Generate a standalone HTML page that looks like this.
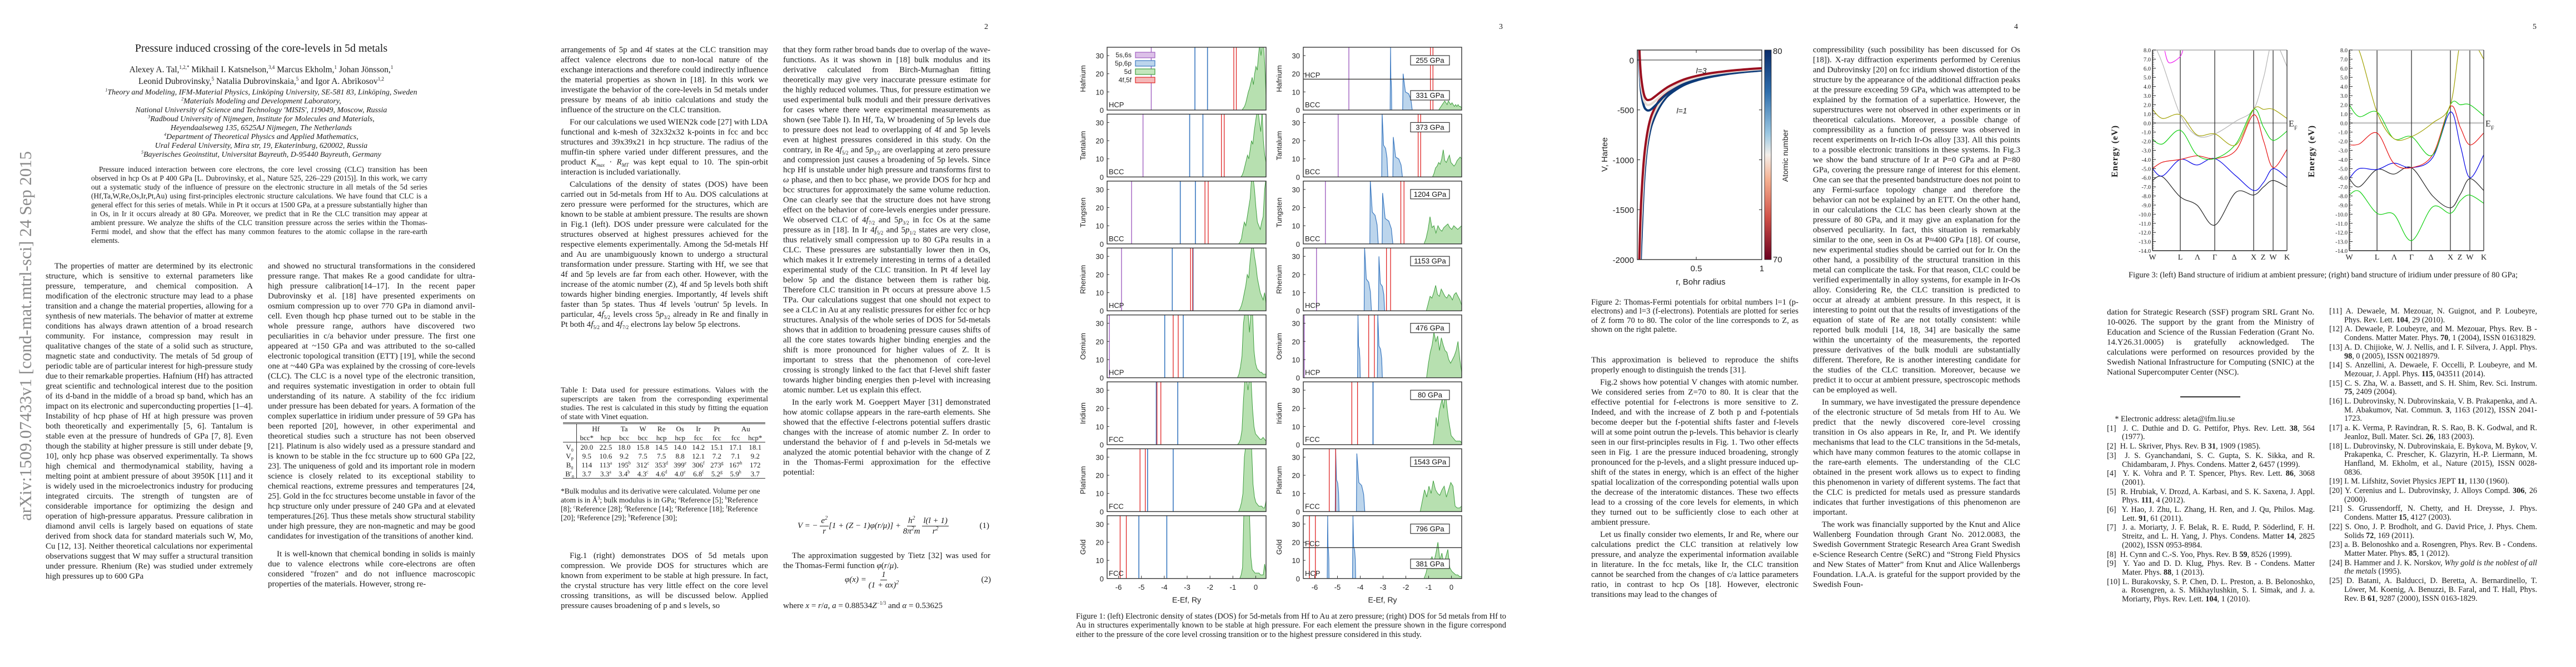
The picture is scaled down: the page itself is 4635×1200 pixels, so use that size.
<!DOCTYPE html>
<html lang="en"><head><meta charset="utf-8"><title>Pressure induced crossing of the core-levels in 5d metals</title>
<style>
html,body{margin:0;padding:0;background:#fff;}
body{width:4635px;height:1200px;position:relative;overflow:hidden;font-family:"Liberation Serif",serif;color:#1a1a1a;}
sup,sub{line-height:0;}
.col{position:absolute;width:373px;font-size:15px;line-height:18px;text-align:justify;hyphens:auto;overflow:hidden;}
.col p{margin:0;text-indent:16px;}
.col p.ni{text-indent:0;}
.col p+p{margin-top:4px;}
.pn{position:absolute;top:41px;font-size:14px;}
.cap{position:absolute;font-size:14.5px;line-height:16.3px;text-align:justify;}
.refs{position:absolute;width:374px;font-size:14.2px;line-height:15.7px;text-align:justify;overflow:hidden;}
.refs div{padding-left:27px;text-indent:-27px;}
.refs div+div{margin-top:1px;}
.c{position:absolute;text-align:center;}
.tbl{position:absolute;left:1013px;top:760px;width:364px;border-top:3px double #333;border-bottom:1.3px solid #333;font-size:13px;}
.tbl td{padding:0;line-height:15px;height:16px;}
.eq{position:absolute;font-size:15px;font-style:italic;}
.fr{display:inline-flex;flex-direction:column;align-items:center;vertical-align:middle;line-height:18px;}
.fr span:first-child{border-bottom:1px solid #222;padding:0 2px;}
svg text{font-family:"Liberation Sans",sans-serif;}
</style></head>
<body>
<svg id="figs" width="4635" height="1200" style="position:absolute;left:0;top:0" xmlns="http://www.w3.org/2000/svg">
<defs>
<linearGradient id="cbar" x1="0" y1="0" x2="0" y2="1">
<stop offset="0" stop-color="#0b2d6b"/><stop offset="0.2" stop-color="#2f6eac"/><stop offset="0.4" stop-color="#9cc8e2"/><stop offset="0.5" stop-color="#f4efea"/><stop offset="0.62" stop-color="#f5b090"/><stop offset="0.8" stop-color="#d05048"/><stop offset="1" stop-color="#6a0020"/>
</linearGradient>
</defs>
<text transform="translate(56,937) rotate(-90)" style="font-family:'Liberation Serif',serif" font-size="31" fill="#8a8a8a" textLength="665" lengthAdjust="spacingAndGlyphs">arXiv:1509.07433v1  [cond-mat.mtrl-sci]  24 Sep 2015</text>
</svg>

<!-- PAGE 1 -->
<div class="c" style="left:170px;width:600px;top:76px;font-size:20px;">Pressure induced crossing of the core-levels in 5d metals</div>
<div class="c" style="left:120px;width:700px;top:115px;font-size:15.5px;line-height:21px;">Alexey A. Tal,<sup style="font-size:9px">1,2,*</sup> Mikhail I. Katsnelson,<sup style="font-size:9px">3,4</sup> Marcus Ekholm,<sup style="font-size:9px">1</sup> Johan Jönsson,<sup style="font-size:9px">1</sup><br>Leonid Dubrovinsky,<sup style="font-size:9px">5</sup> Natalia Dubrovinskaia,<sup style="font-size:9px">5</sup> and Igor A. Abrikosov<sup style="font-size:9px">1,2</sup></div>
<div class="c" style="left:120px;width:700px;top:159px;font-size:14px;line-height:16px;font-style:italic;"><sup style="font-size:8px">1</sup>Theory and Modeling, IFM-Material Physics, Linköping University, SE-581 83, Linköping, Sweden<br><sup style="font-size:8px">2</sup>Materials Modeling and Development Laboratory,<br>National University of Science and Technology 'MISIS', 119049, Moscow, Russia<br><sup style="font-size:8px">3</sup>Radboud University of Nijmegen, Institute for Molecules and Materials,<br>Heyendaalseweg 135, 6525AJ Nijmegen, The Netherlands<br><sup style="font-size:8px">4</sup>Department of Theoretical Physics and Applied Mathematics,<br>Ural Federal University, Mira str, 19, Ekaterinburg, 620002, Russia<br><sup style="font-size:8px">5</sup>Bayerisches Geoinstitut, Universitat Bayreuth, D-95440 Bayreuth, Germany</div>
<div style="position:absolute;left:164px;width:605px;top:297px;font-size:13.4px;line-height:16px;text-align:justify;text-indent:14px;">Pressure induced interaction between core electrons, the core level crossing (CLC) transition has been observed in hcp Os at P 400 GPa [L. Dubrovinsky, et al., Nature 525, 226–229 (2015)]. In this work, we carry out a systematic study of the influence of pressure on the electronic structure in all metals of the 5d series (Hf,Ta,W,Re,Os,Ir,Pt,Au) using first-principles electronic structure calculations. We have found that CLC is a general effect for this series of metals. While in Pt it occurs at 1500 GPa, at a pressure substantially higher than in Os, in Ir it occurs already at 80 GPa. Moreover, we predict that in Re the CLC transition may appear at ambient pressure. We analyze the shifts of the CLC transition pressure across the series within the Thomas-Fermi model, and show that the effect has many common features to the atomic collapse in the rare-earth elements.</div>
<div class="col" style="left:82px;top:470px;height:620px;"><p>The properties of matter are determined by its electronic structure, which is sensitive to external parameters like pressure, temperature, and chemical composition. A modification of the electronic structure may lead to a phase transition and a change the material properties, allowing for a synthesis of new materials. The behavior of matter at extreme conditions has always drawn attention of a broad research community. For instance, compression may result in qualitative changes of the state of a solid such as structure, magnetic state and conductivity. The metals of 5d group of periodic table are of particular interest for high-pressure study due to their remarkable properties. Hafnium (Hf) has attracted great scientific and technological interest due to the position of its d-band in the middle of a broad sp band, which has an impact on its electronic and superconducting properties [1–4]. Instability of hcp phase of Hf at high pressure was proven both theoretically and experimentally [5, 6]. Tantalum is stable even at the pressure of hundreds of GPa [7, 8]. Even though the stability at higher pressure is still under debate [9, 10], only hcp phase was observed experimentally. Ta shows high chemical and thermodynamical stability, having a melting point at ambient pressure of about 3950K [11] and it is widely used in the microelectronics industry for producing integrated circuits. The strength of tungsten are of considerable importance for optimizing the design and operation of high-pressure apparatus. Pressure calibration in diamond anvil cells is largely based on equations of state derived from shock data for standard materials such W, Mo, Cu [12, 13]. Neither theoretical calculations nor experimental observations suggest that W may suffer a structural transition under pressure. Rhenium (Re) was studied under extremely high pressures up to 600 GPa</p></div>
<div class="col" style="left:482px;top:470px;height:620px;"><p class="ni">and showed no structural transformations in the considered pressure range. That makes Re a good candidate for ultra-high pressure calibration[14–17]. In the recent paper Dubrovinsky et al. [18] have presented experiments on osmium compression up to over 770 GPa in diamond anvil-cell. Even though hcp phase turned out to be stable in the whole pressure range, authors have discovered two peculiarities in c/a behavior under pressure. The first one appeared at ~150 GPa and was attributed to the so-called electronic topological transition (ETT) [19], while the second one at ~440 GPa was explained by the crossing of core-levels (CLC). The CLC is a novel type of the electronic transition, and requires systematic investigation in order to obtain full understanding of its nature. A stability of the fcc iridium under pressure has been debated for years. A formation of the complex superlattice in iridium under pressure of 59 GPa has been reported [20], however, in other experimental and theoretical studies such a structure has not been observed [21]. Platinum is also widely used as a pressure standard and is known to be stable in the fcc structure up to 600 GPa [22, 23]. The uniqueness of gold and its important role in modern science is closely related to its exceptional stability to chemical reactions, extreme pressures and temperatures [24, 25]. Gold in the fcc structures become unstable in favor of the hcp structure only under pressure of 240 GPa and at elevated temperatures.[26]. Thus these metals show structural stability under high pressure, they are non-magnetic and may be good candidates for investigation of the transitions of another kind.</p><p style="margin-top:14px">It is well-known that chemical bonding in solids is mainly due to valence electrons while core-electrons are often considered "frozen" and do not influence macroscopic properties of the materials. However, strong re-</p></div>

<!-- PAGE 2 -->
<div class="pn" style="left:1771px;">2</div>
<div class="col" style="left:1009px;top:81px;height:585px;"><p class="ni">arrangements of 5p and 4f states at the CLC transition may affect valence electrons due to non-local nature of the exchange interactions and therefore could indirectly influence the material properties as shown in [18]. In this work we investigate the behavior of the core-levels in 5d metals under pressure by means of ab initio calculations and study the influence of the structure on the CLC transition.</p><p>For our calculations we used WIEN2k code [27] with LDA functional and k-mesh of 32x32x32 k-points in fcc and bcc structures and 39x39x21 in hcp structure. The radius of the muffin-tin sphere varied under different pressures, and the product <i>K<sub style="font-size:9px">max</sub></i> · <i>R<sub style="font-size:9px">MT</sub></i> was kept equal to 10. The spin-orbit interaction is included variationally.</p><p>Calculations of the density of states (DOS) have been carried out in 5d-metals from Hf to Au. DOS calculations at zero pressure were performed for the structures, which are known to be stable at ambient pressure. The results are shown in Fig.1 (left). DOS under pressure were calculated for the structures observed at highest pressures achieved for the respective elements experimentally. Among the 5d-metals Hf and Au are unambiguously known to undergo a structural transformation under pressure. Starting with Hf, we see that 4f and 5p levels are far from each other. However, with the increase of the atomic number (Z), 4f and 5p levels both shift towards higher binding energies. Importantly, 4f levels shift faster than 5p states. Thus 4f levels 'outrun' 5p levels. In particular, 4<i>f</i><sub style="font-size:9px">5/2</sub> levels cross 5<i>p</i><sub style="font-size:9px">3/2</sub> already in Re and finally in Pt both 4<i>f</i><sub style="font-size:9px">5/2</sub> and 4<i>f</i><sub style="font-size:9px">7/2</sub> electrons lay below 5p electrons.</p></div>
<div style="position:absolute;left:1009px;width:373px;top:695px;font-size:14px;line-height:16px;text-align:justify;">Table I: Data used for pressure estimations. Values with the superscripts are taken from the corresponding experimental studies. The rest is calculated in this study by fitting the equation of state with Vinet equation.</div>
<table class="tbl" style="border-collapse:collapse;text-align:center;">
<tr><td style="width:24px;border-right:1px solid #333"></td><td colspan="2">Hf</td><td>Ta</td><td>W</td><td>Re</td><td>Os</td><td>Ir</td><td>Pt</td><td colspan="2">Au</td></tr>
<tr style="border-bottom:1px solid #333"><td style="border-right:1px solid #333"></td><td>bcc*</td><td>hcp</td><td>bcc</td><td>bcc</td><td>hcp</td><td>hcp</td><td>fcc</td><td>fcc</td><td>fcc</td><td>hcp*</td></tr>
<tr><td style="border-right:1px solid #333">V<sub style="font-size:8px">0</sub></td><td>20.0</td><td>22.5</td><td>18.0</td><td>15.8</td><td>14.5</td><td>14.0</td><td>14.2</td><td>15.1</td><td>17.1</td><td>18.1</td></tr>
<tr><td style="border-right:1px solid #333">V<sub style="font-size:8px">P</sub></td><td>9.5</td><td>10.6</td><td>9.2</td><td>7.5</td><td>7.5</td><td>8.8</td><td>12.1</td><td>7.2</td><td>7.1</td><td>9.2</td></tr>
<tr><td style="border-right:1px solid #333">B<sub style="font-size:8px">0</sub></td><td>114</td><td>113<sup style="font-size:8px">a</sup></td><td>195<sup style="font-size:8px">b</sup></td><td>312<sup style="font-size:8px">c</sup></td><td>353<sup style="font-size:8px">d</sup></td><td>399<sup style="font-size:8px">e</sup></td><td>306<sup style="font-size:8px">f</sup></td><td>273<sup style="font-size:8px">g</sup></td><td>167<sup style="font-size:8px">h</sup></td><td>172</td></tr>
<tr><td style="border-right:1px solid #333">B′<sub style="font-size:8px">0</sub></td><td>3.7</td><td>3.3<sup style="font-size:8px">a</sup></td><td>3.4<sup style="font-size:8px">b</sup></td><td>4.3<sup style="font-size:8px">c</sup></td><td>4.6<sup style="font-size:8px">d</sup></td><td>4.0<sup style="font-size:8px">e</sup></td><td>6.8<sup style="font-size:8px">f</sup></td><td>5.2<sup style="font-size:8px">g</sup></td><td>5.9<sup style="font-size:8px">h</sup></td><td>3.7</td></tr>
</table>
<div style="position:absolute;left:1009px;width:360px;top:876px;font-size:13.5px;line-height:16px;">*Bulk modulus and its derivative were calculated. Volume per one atom is in Å<sup style="font-size:8px">3</sup>; bulk modulus is in GPa; <sup style="font-size:8px">a</sup>Reference [5]; <sup style="font-size:8px">b</sup>Reference [8]; <sup style="font-size:8px">c</sup>Reference [28]; <sup style="font-size:8px">d</sup>Reference [14]; <sup style="font-size:8px">e</sup>Reference [18]; <sup style="font-size:8px">f</sup>Reference [20]; <sup style="font-size:8px">g</sup>Reference [29]; <sup style="font-size:8px">h</sup>Reference [30];</div>
<div class="col" style="left:1009px;top:991px;height:110px;"><p>Fig.1 (right) demonstrates DOS of 5d metals upon compression. We provide DOS for structures which are known from experiment to be stable at high pressure. In fact, the crystal structure has very little effect on the core level crossing transitions, as will be discussed below. Applied pressure causes broadening of p and s levels, so</p></div>
<div class="col" style="left:1409px;top:81px;height:820px;"><p class="ni">that they form rather broad bands due to overlap of the wave-functions. As it was shown in [18] bulk modulus and its derivative calculated from Birch-Murnaghan fitting theoretically may give very inaccurate pressure estimate for the highly reduced volumes. Thus, for pressure estimation we used experimental bulk moduli and their pressure derivatives for cases where there were experimental measurements as shown (see Table I). In Hf, Ta, W broadening of 5p levels due to pressure does not lead to overlapping of 4f and 5p levels even at highest pressures considered in this study. On the contrary, in Re 4<i>f</i><sub style="font-size:9px">5/2</sub> and 5<i>p</i><sub style="font-size:9px">3/2</sub> are overlapping at zero pressure and compression just causes a broadening of 5p levels. Since hcp Hf is unstable under high pressure and transforms first to <i>ω</i> phase, and then to bcc phase, we provide DOS for hcp and bcc structures for approximately the same volume reduction. One can clearly see that the structure does not have strong effect on the behavior of core-levels energies under pressure. We observed CLC of 4<i>f</i><sub style="font-size:9px">7/2</sub> and 5<i>p</i><sub style="font-size:9px">3/2</sub> in fcc Os at the same pressure as in [18]. In Ir 4<i>f</i><sub style="font-size:9px">5/2</sub> and 5<i>p</i><sub style="font-size:9px">1/2</sub> states are very close, thus relatively small compression up to 80 GPa results in a CLC. These pressures are substantially lower then in Os, which makes it Ir extremely interesting in terms of a detailed experimental study of the CLC transition. In Pt 4f level lay below 5p and the distance between them is rather big. Therefore CLC transition in Pt occurs at pressure above 1.5 TPa. Our calculations suggest that one should not expect to see a CLC in Au at any realistic pressures for either fcc or hcp structures. Analysis of the whole series of DOS for 5d-metals shows that in addition to broadening pressure causes shifts of all the core states towards higher binding energies and the shift is more pronounced for higher values of Z. It is important to stress that the phenomenon of core-level crossing is strongly linked to the fact that f-level shift faster towards higher binding energies then p-level with increasing atomic number. Let us explain this effect.</p><p>In the early work M. Goeppert Mayer [31] demonstrated how atomic collapse appears in the rare-earth elements. She showed that the effective f-electrons potential suffers drastic changes with the increase of atomic number Z. In order to understand the behavior of f and p-levels in 5d-metals we analyzed the atomic potential behavior with the change of Z in the Thomas-Fermi approximation for the effective potential:</p></div>
<div class="eq" style="left:1435px;top:928px;width:345px;">V = − <span class="fr"><span>e<sup style="font-size:10px">2</sup></span><span>r</span></span>[1 + (Z − 1)<span>φ</span>(r/μ)] + <span class="fr"><span>h<sup style="font-size:10px">2</sup></span><span>8π<sup style="font-size:10px">2</sup>m</span></span> <span class="fr"><span>l(l + 1)</span><span>r<sup style="font-size:10px">2</sup></span></span><span style="position:absolute;right:0;top:10px;font-style:normal">(1)</span></div>
<div class="col" style="left:1409px;top:991px;height:40px;"><p>The approximation suggested by Tietz [32] was used for the Thomas-Fermi function <i>φ</i>(<i>r</i>/<i>μ</i>).</p></div>
<div class="eq" style="left:1520px;top:1025px;width:263px;"><i>φ</i>(x) = <span class="fr"><span>1</span><span>(1 + αx)<sup style="font-size:10px">2</sup></span></span><span style="position:absolute;right:0;top:10px;font-style:normal">(2)</span></div>
<div class="col" style="left:1409px;top:1081px;height:20px;"><p class="ni">where <i>x</i> = <i>r</i>/<i>a</i>, <i>a</i> = 0.88534<i>Z</i><sup style="font-size:9px">−1/3</sup> and <i>α</i> = 0.53625</p></div>

<!-- PAGE 3 -->
<div class="pn" style="left:2697px;">3</div>
<div class="cap" style="left:1936px;width:774px;top:1101px;">Figure 1: (left) Electronic density of states (DOS) for 5d-metals from Hf to Au at zero pressure; (right) DOS for 5d metals from Hf to Au in structures experimentally known to be stable at high pressure. For each element the pressure shown in the figure correspond either to the pressure of the core level crossing transition or to the highest pressure considered in this study.</div>

<!-- PAGE 4 -->
<div class="pn" style="left:3624px;">4</div>
<div class="cap" style="left:2863px;width:373px;top:536px;">Figure 2: Thomas-Fermi potentials for orbital numbers l=1 (p-electrons) and l=3 (f-electrons). Potentials are plotted for series of Z form 70 to 80. The color of the line corresponds to Z, as shown on the right palette.</div>
<div class="col" style="left:2863px;top:639px;height:460px;"><p class="ni">This approximation is believed to reproduce the shifts properly enough to distinguish the trends [31].</p><p>Fig.2 shows how potential V changes with atomic number. We considered series from Z=70 to 80. It is clear that the effective potential for f-electrons is more sensitive to Z. Indeed, and with the increase of Z both p and f-potentials become deeper but the f-potential shifts faster and f-levels will at some point outrun the p-levels. This behavior is clearly seen in our first-principles results in Fig. 1. Two other effects seen in Fig. 1 are the pressure induced broadening, strongly pronounced for the p-levels, and a slight pressure induced up-shift of the states in energy, which is an effect of the higher spatial localization of the corresponding potential walls upon the decrease of the interatomic distances. These two effects lead to a crossing of the core levels for elements, in which they turned out to be sufficiently close to each other at ambient pressure.</p><p>Let us finally consider two elements, Ir and Re, where our calculations predict the CLC transition at relatively low pressure, and analyze the experimental information available in literature. In the fcc metals, like Ir, the CLC transition cannot be searched from the changes of c/a lattice parameters ratio, in contrast to hcp Os [18]. However, electronic transitions may lead to the changes of</p></div>
<div class="col" style="left:3262px;top:81px;height:1018px;"><p class="ni">compressibility (such possibility has been discussed for Os [18]). X-ray diffraction experiments performed by Cerenius and Dubrovinsky [20] on fcc iridium showed distortion of the structure by the appearance of the additional diffraction peaks at the pressure exceeding 59 GPa, which was attempted to be explained by the formation of a superlattice. However, the superstructures were not observed in other experiments or in theoretical calculations. Moreover, a possible change of compressibility as a function of pressure was observed in recent experiments on Ir-rich Ir-Os alloy [33]. All this points to a possible electronic transitions in these systems. In Fig.3 we show the band structure of Ir at P=0 GPa and at P=80 GPa, covering the pressure range of interest for this element. One can see that the presented bandstructure does not point to any Fermi-surface topology change and therefore the behavior can not be explained by an ETT. On the other hand, in our calculations the CLC has been clearly shown at the pressure of 80 GPa, and it may give an explanation for the observed peculiarity. In fact, this situation is remarkably similar to the one, seen in Os at P≈400 GPa [18]. Of course, new experimental studies should be carried out for Ir. On the other hand, a possibility of the structural transition in this metal can complicate the task. For that reason, CLC could be verified experimentally in alloy systems, for example in Ir-Os alloy. Considering Re, the CLC transition is predicted to occur at already at ambient pressure. In this respect, it is interesting to point out that the results of investigations of the equation of state of Re are not totally consistent: while reported bulk moduli [14, 18, 34] are basically the same within the uncertainty of the measurements, the reported pressure derivatives of the bulk moduli are substantially different. Therefore, Re is another interesting candidate for the studies of the CLC transition. Moreover, because we predict it to occur at ambient pressure, spectroscopic methods can be employed as well.</p><p>In summary, we have investigated the pressure dependence of the electronic structure of 5d metals from Hf to Au. We predict that the newly discovered core-level crossing transition in Os also appears in Re, Ir, and Pt. We identify mechanisms that lead to the CLC transitions in the 5d-metals, which have many common features to the atomic collapse in the rare-earth elements. The understanding of the CLC obtained in the present work allows us to expect to finding this phenomenon in variety of different systems. The fact that the CLC is predicted for metals used as pressure standards indicates that further investigations of this phenomenon are important.</p><p>The work was financially supported by the Knut and Alice Wallenberg Foundation through Grant No. 2012.0083, the Swedish Government Strategic Research Area Grant Swedish e-Science Research Centre (SeRC) and “Strong Field Physics and New States of Matter” from Knut and Alice Wallenbergs Foundation. I.A.A. is grateful for the support provided by the Swedish Foun-</p></div>

<!-- PAGE 5 -->
<div class="pn" style="left:4557px;">5</div>
<div class="c" style="left:3760px;width:840px;top:487px;font-size:14.5px;">Figure 3: (left) Band structure of iridium at ambient pressure; (right) band structure of iridium under pressure of 80 GPa;</div>
<div class="col" style="left:3791px;top:553px;height:130px;"><p class="ni">dation for Strategic Research (SSF) program SRL Grant No. 10-0026. The support by the grant from the Ministry of Education and Science of the Russian Federation (Grant No. 14.Y26.31.0005) is gratefully acknowledged. The calculations were performed on resources provided by the Swedish National Infrastructure for Computing (SNIC) at the National Supercomputer Center (NSC).</p></div>
<div style="position:absolute;left:3923px;top:713px;width:108px;height:2px;background:#333;"></div>
<div class="refs" style="left:3791px;top:747px;height:355px;">
<div>&nbsp;&nbsp;&nbsp;&nbsp;* Electronic address: aleta@ifm.liu.se</div>
<div>[1]&nbsp; J. C. Duthie and D. G. Pettifor, Phys. Rev. Lett. <b>38</b>, 564 (1977).</div>
<div>[2]&nbsp; H. L. Skriver, Phys. Rev. B <b>31</b>, 1909 (1985).</div>
<div>[3]&nbsp; J. S. Gyanchandani, S. C. Gupta, S. K. Sikka, and R. Chidambaram, J. Phys. Condens. Matter <b>2</b>, 6457 (1999).</div>
<div>[4]&nbsp; Y. K. Vohra and P. T. Spencer, Phys. Rev. Lett. <b>86</b>, 3068 (2001).</div>
<div>[5]&nbsp; R. Hrubiak, V. Drozd, A. Karbasi, and S. K. Saxena, J. Appl. Phys. <b>111</b>, 4 (2012).</div>
<div>[6]&nbsp; Y. Hao, J. Zhu, L. Zhang, H. Ren, and J. Qu, Philos. Mag. Lett. <b>91</b>, 61 (2011).</div>
<div>[7]&nbsp; J. a. Moriarty, J. F. Belak, R. E. Rudd, P. Söderlind, F. H. Streitz, and L. H. Yang, J. Phys. Condens. Matter <b>14</b>, 2825 (2002), ISSN 0953-8984.</div>
<div>[8]&nbsp; H. Cynn and C.-S. Yoo, Phys. Rev. B <b>59</b>, 8526 (1999).</div>
<div>[9]&nbsp; Y. Yao and D. D. Klug, Phys. Rev. B - Condens. Matter Mater. Phys. <b>88</b>, 1 (2013).</div>
<div>[10] L. Burakovsky, S. P. Chen, D. L. Preston, a. B. Belonoshko, a. Rosengren, a. S. Mikhaylushkin, S. I. Simak, and J. a. Moriarty, Phys. Rev. Lett. <b>104</b>, 1 (2010).</div>
</div>
<div class="refs" style="left:4191px;top:553px;height:545px;">
<div>[11] A. Dewaele, M. Mezouar, N. Guignot, and P. Loubeyre, Phys. Rev. Lett. <b>104</b>, 29 (2010).</div>
<div>[12] A. Dewaele, P. Loubeyre, and M. Mezouar, Phys. Rev. B - Condens. Matter Mater. Phys. <b>70</b>, 1 (2004), ISSN 01631829.</div>
<div>[13] A. D. Chijioke, W. J. Nellis, and I. F. Silvera, J. Appl. Phys. <b>98</b>, 0 (2005), ISSN 00218979.</div>
<div>[14] S. Anzellini, A. Dewaele, F. Occelli, P. Loubeyre, and M. Mezouar, J. Appl. Phys. <b>115</b>, 043511 (2014).</div>
<div>[15] C. S. Zha, W. a. Bassett, and S. H. Shim, Rev. Sci. Instrum. <b>75</b>, 2409 (2004).</div>
<div>[16] L. Dubrovinsky, N. Dubrovinskaia, V. B. Prakapenka, and A. M. Abakumov, Nat. Commun. <b>3</b>, 1163 (2012), ISSN 2041-1723.</div>
<div>[17] a. K. Verma, P. Ravindran, R. S. Rao, B. K. Godwal, and R. Jeanloz, Bull. Mater. Sci. <b>26</b>, 183 (2003).</div>
<div>[18] L. Dubrovinsky, N. Dubrovinskaia, E. Bykova, M. Bykov, V. Prakapenka, C. Prescher, K. Glazyrin, H.-P. Liermann, M. Hanfland, M. Ekholm, et al., Nature (2015), ISSN 0028-0836.</div>
<div>[19] I. M. Lifshitz, Soviet Physics JEPT <b>11</b>, 1130 (1960).</div>
<div>[20] Y. Cerenius and L. Dubrovinsky, J. Alloys Compd. <b>306</b>, 26 (2000).</div>
<div>[21] S. Grussendorff, N. Chetty, and H. Dreysse, J. Phys. Condens. Matter <b>15</b>, 4127 (2003).</div>
<div>[22] S. Ono, J. P. Brodholt, and G. David Price, J. Phys. Chem. Solids <b>72</b>, 169 (2011).</div>
<div>[23] a. B. Belonoshko and a. Rosengren, Phys. Rev. B - Condens. Matter Mater. Phys. <b>85</b>, 1 (2012).</div>
<div>[24] B. Hammer and J. K. Norskov, <i>Why gold is the noblest of all the metals</i> (1995).</div>
<div>[25] D. Batani, A. Balducci, D. Beretta, A. Bernardinello, T. Löwer, M. Koenig, A. Benuzzi, B. Faral, and T. Hall, Phys. Rev. B <b>61</b>, 9287 (2000), ISSN 0163-1829.</div>
</div>

<script>
// ================= FIGURE 1 DATA (DOS) =================
const elements = ['Hafnium','Tantalum','Tungsten','Rhenium','Osmium','Iridium','Platinum','Gold'];
const structL = ['HCP','BCC','BCC','HCP','HCP','FCC','FCC','FCC'];
const structR = ['BCC','BCC','BCC','HCP','HCP','FCC','FCC','HCP'];
const structRUpper = ['HCP','','','','','','','FCC'];
const pressR = [['255 GPa','331 GPa'],['373 GPa'],['1204 GPa'],['1153 GPa'],['476 GPa'],['80 GPa'],['1543 GPa'],['796 GPa','381 GPa']];
const legendLabels = ['5s,6s','5p,6p','5d','4f,5f'];
const dosXTicks = [-6,-5,-4,-3,-2,-1,0];
const dosYTicks = [0,10,20,30];
const sLevL = [-4.57,-4.93,-5.43,-5.87,-6.40,null,null,null];
const pLevL = [[-2.66,-2.11],[-2.89,-2.31],[-3.30,-2.64],[-3.65,-2.74],[-3.98,-3.17],[-4.35,-3.41],[-4.73,-3.61],[-5.11,-3.89]];
const fLevL = [[-0.96,-0.85],[-1.50,-1.38],[-2.22,-2.08],[-2.85,-2.76],[-3.61,-3.39],[-4.32,-4.15],[-5.06,-4.83],[-5.93,-5.66]];
const sLevR = [-4.50,-4.97,-5.53,-5.92,-6.46,null,null,null];
const pLevR = [[-2.67,-2.12],[-3.04,-2.55],[-3.56,-3.02],[-3.81,-3.18],[-4.10,-3.23],[-3.44,-3.44],[-5.08,-4.15],[-5.43,-4.32]];
const pWidR = [[0.05,0.4],[0.25,0.4],[0.35,0.45],[0.3,0.25],[0.1,0.2],[0,0],[0.15,0.35],[0.06,0.12]];
const pPeakR = [[35,20],[35,22],[35,28],[35,30],[35,35],[35,35],[35,32],[35,35]];
const fLevR = [[-0.92,-0.81],[-1.46,-1.35],[-2.22,-2.08],[-2.85,-2.67],[-3.63,-3.38],[-4.37,-4.12],[-5.36,-5.08],[-6.23,-5.97]];
const dStartL = [-0.6,-0.65,-0.75,-0.75,-0.8,-0.8,-0.75,-0.7];
const dStartR = [-0.56,-0.83,-1.2,-1.1,-1.09,-0.8,-1.37,-1.2];
const dosHfL=[0,1,2,4,7,10,12,15,18,14,20,24,22,30,40,30,40,40,25,8];
const dosTaL=[0,1,3,6,9,12,10,15,20,18,25,30,35,40,30,25,40,20,12,8];
const dosWL=[0,1,3,8,12,10,15,20,25,40,40,30,20,12,10,8,12,15,30,40];
const dosReL=[0,1,3,6,10,14,20,18,28,35,40,30,25,18,14,10,8,6,10,4];
const dosOsL=[0,2,6,12,30,40,40,40,25,40,40,15,8,5,4,3,3,2,2,2];
const dosIrL=[0,1,3,8,25,40,40,30,40,40,20,10,6,5,4,3,3,4,3,2];
const dosPtL=[0,2,5,10,30,40,40,40,40,35,15,8,5,4,3,3,3,2,2,6];
const dosAuL=[0,2,6,40,40,40,40,40,12,5,4,3,3,3,3,2,2,2,8,3];
const dosHfR=[0,1,2,3,4,5,4,3,5,4,3,4,3,2,3,2,3,2,2,1];
const dosTaR=[0,2,5,6,8,7,10,15,9,8,10,12,8,7,6,7,9,10,11,10];
const dosWR=[0,3,8,15,9,10,6,10,8,7,9,10,11,9,8,10,9,8,9,10];
const dosReR=[0,4,8,7,10,14,9,8,12,10,8,7,9,8,6,9,10,8,6,3];
const dosOsR=[0,8,14,18,25,20,23,15,22,18,15,14,10,8,10,12,15,20,10,3];
const dosIrR=[0,6,15,10,18,22,25,20,30,22,15,10,5,4,3,2,2,2,2,1];
const dosPtR=[0,6,12,8,14,10,17,12,10,9,12,14,8,12,16,14,3,2,2,3];
const dosAuR=[0,3,8,10,12,9,14,20,10,14,8,12,16,6,4,3,2,2,1,1];
const dosL=[dosHfL,dosTaL,dosWL,dosReL,dosOsL,dosIrL,dosPtL,dosAuL];
const dosR=[dosHfR,dosTaR,dosWR,dosReR,dosOsR,dosIrR,dosPtR,dosAuR];
const splitLevel = 17;

// ================= FIGURE 2 DATA (Thomas-Fermi) =================
const rGrid = [0.05,0.06,0.07,0.08,0.1,0.12,0.14,0.16,0.2,0.25,0.3,0.4,0.5,0.6,0.7,0.8,0.9,1.0];
const l3Z70 = [900,350,0,-180,-340,-395,-400,-390,-350,-300,-258,-198,-160,-134,-116,-102,-91,-82];
const l3Z75 = [800,250,-80,-260,-400,-445,-450,-438,-395,-335,-288,-220,-177,-148,-128,-113,-101,-91];
const l3Z80 = [700,150,-160,-330,-460,-500,-505,-490,-440,-370,-318,-242,-194,-162,-140,-123,-110,-99];
const l1Z70 = [-2900,-2300,-1750,-1400,-1000,-780,-640,-550,-440,-350,-290,-220,-178,-150,-130,-114,-102,-93];
const l1Z75 = [-3100,-2550,-2000,-1620,-1120,-860,-700,-600,-480,-380,-315,-238,-192,-161,-139,-122,-109,-99];
const l1Z80 = [-3300,-2750,-2250,-1850,-1250,-930,-760,-650,-520,-410,-340,-255,-205,-172,-148,-130,-116,-105];
const vTicks = [0,-500,-1000,-1500,-2000];
const rTicks = [0.5,1];

// ================= FIGURE 3 DATA (band structures) =================
const kSamp = [0,18,50,80,112,150,182,200,217,242];
const kLabelNames = ['W','L','Λ','Γ','Δ','X','Z','W','K'];
const kLabelPos = [0,50,81,112,147,182,199,217,242];
const kLinePos = [50,112,182,217];
const eTicks = [8,7,6,5,4,3,2,1,0,-1,-2,-3,-4,-5,-6,-7,-8,-9,-10,-11,-12,-13,-14];
const ambBlack = [-6.3,-5.9,-8.1,-9.0,-11.2,-7.6,-7.9,-7.0,-6.3,-7.0];
const ambBlue  = [-5.0,-5.8,-4.0,-4.6,-3.9,-5.8,-7.4,-6.5,-5.0,-6.0];
const ambRed   = [-5.0,-4.3,-4.0,-3.6,-3.9,-3.0,0.9,-2.0,-4.9,-2.9];
const ambGreen = [-1.8,-2.3,-0.8,-3.5,-3.9,-2.3,1.5,-0.5,-1.9,-0.9];
const ambOlive = [1.5,0.5,0.9,-1.3,-1.2,-2.4,1.5,1.5,1.5,0.5];
const ambGray  = [9.0,6.5,0.9,-1.4,-1.2,0.2,1.5,5.0,9.0,6.2];
const ambMagK = [22,30,50,56];
const ambMagE = [7.9,6.6,7.3,8.4];
const hpBlack = [-6.1,-7.0,-5.1,-5.6,-4.9,-8.0,-9.3,-7.8,-6.1,-7.4];
const hpBlue  = [-6.1,-5.0,-5.1,-4.4,-4.9,-3.8,1.2,-2.5,-6.0,-3.5];
const hpRed   = [-2.4,-2.3,-1.1,-4.4,-4.9,-3.5,1.8,-0.5,-2.4,-1.1];
const hpGreen = [2.0,0.7,1.2,-1.7,-1.5,-3.5,2.0,2.0,2.0,0.8];
const hpGreen2= [-7.9,-7.5,-9.9,-10.0,-12.9,-9.2,-9.9,-8.5,-7.9,-8.8];
const hpOlive = [8.5,7.9,1.2,-1.7,-1.5,0.0,2.0,9.0,9.5,7.0];

// ================= helpers =================
const NS='http://www.w3.org/2000/svg';
const svg=document.getElementById('figs');
function mk(tag,attrs,parent){const e=document.createElementNS(NS,tag);for(const k in attrs)e.setAttribute(k,attrs[k]);(parent||svg).appendChild(e);return e;}
function txt(str,attrs,parent){const e=mk('text',attrs,parent);e.textContent=str;return e;}
function smooth(pts){
  let d='M'+pts[0][0].toFixed(1)+','+pts[0][1].toFixed(1);
  for(let i=0;i<pts.length-1;i++){
    const p0=pts[i-1]||pts[i],p1=pts[i],p2=pts[i+1],p3=pts[i+2]||p2;
    const c1=[p1[0]+(p2[0]-p0[0])/6,p1[1]+(p2[1]-p0[1])/6];
    const c2=[p2[0]-(p3[0]-p1[0])/6,p2[1]-(p3[1]-p1[1])/6];
    d+=' C'+c1[0].toFixed(1)+','+c1[1].toFixed(1)+' '+c2[0].toFixed(1)+','+c2[1].toFixed(1)+' '+p2[0].toFixed(1)+','+p2[1].toFixed(1);
  }
  return d;
}

// ================= FIGURE 1 =================
const XMIN=-6.5,XMAX=0.45,YMAX=34.6;
function drawDOS(side,i){
  const X0 = side==='L'?1992:2345, W = side==='L'?286:285;
  const top = 85+i*120.4, H=113, bot=top+H;
  const xs = e => X0+(e-XMIN)/(XMAX-XMIN)*W;
  const ys = v => bot-Math.min(v,YMAX+2)/YMAX*H;
  const g = mk('g',{});
  
  
  const cp = mk('clipPath',{id:'cp'+side+i},g);
  mk('rect',{x:X0,y:top,width:W,height:H},cp);
  const pg = mk('g',{'clip-path':'url(#cp'+side+i+')'},g);
  const vals = side==='L'?dosL[i]:dosR[i];
  const st = side==='L'?dStartL[i]:dStartR[i];
  let d='M'+xs(st)+','+bot;
  vals.forEach((v,j)=>{const e=st+j*(XMAX-st)/(vals.length-1);d+=' L'+xs(e).toFixed(1)+','+ys(v).toFixed(1);});
  d+=' L'+xs(XMAX)+','+bot+' Z';
  const green = mk('path',{d:d,fill:'#b7e0b0',stroke:'#3e9e3e','stroke-width':1},pg);
  
  
  const s = side==='L'?sLevL[i]:sLevR[i];
  if(s!==null){
    const sl = mk('line',{x1:xs(s),x2:xs(s),y1:top,y2:bot,stroke:'#a060c0','stroke-width':1.4},pg);
    
    
  }
  const ps = side==='L'?pLevL[i]:pLevR[i];
  ps.forEach((p,j)=>{
    const w = side==='L'?0:pWidR[i][j];
    let el;
    if(w>0){
      const pk = pPeakR[i][j];
      el = mk('path',{d:'M'+xs(p-0.02)+','+bot+' L'+xs(p)+','+ys(pk)+' L'+xs(p+w*0.25)+','+ys(pk*0.5)+' L'+xs(p+w*0.6)+','+ys(pk*0.45)+' L'+xs(p+w*0.85)+','+ys(pk*0.3)+' L'+xs(p+w)+','+bot+' Z',fill:'#bcd5ec',stroke:'#3a78c0','stroke-width':1.2},pg);
    } else {
      el = mk('line',{x1:xs(p),x2:xs(p),y1:top,y2:bot,stroke:'#3a78c0','stroke-width':1.6},pg);
    }
    
    
  });
  const fs = side==='L'?fLevL[i]:fLevR[i];
  fs.forEach(f=>{
    const fl = mk('line',{x1:xs(f),x2:xs(f),y1:top,y2:bot,stroke:'#e02424','stroke-width':1.3},pg);
    
    
  });
  const fr = mk('rect',{x:X0,y:top,width:W,height:H,fill:'none',stroke:'#333','stroke-width':1.4},g);
  
  
  dosYTicks.forEach(t=>{
    mk('line',{x1:X0,x2:X0+4,y1:ys(t),y2:ys(t),stroke:'#333'},g);
    const tl = txt(String(t),{x:X0-6,y:ys(t)+5,'font-size':13,'text-anchor':'end',fill:'#222'},g);
    
    
  });
  const nm = txt(elements[i],{transform:'translate('+(X0-39)+','+(top+H/2)+') rotate(-90)','font-size':13,'text-anchor':'middle',fill:'#222'},g);
  
  
  const sl2 = txt(side==='L'?structL[i]:structR[i],{x:X0+3,y:bot-5,'font-size':13,fill:'#222'},g);
  
  
  if(side==='R'){
    if(pressR[i].length===2){
      const spl = mk('line',{x1:X0,x2:X0+W,y1:ys(splitLevel),y2:ys(splitLevel),stroke:'#333','stroke-width':1.4},g);
      
      
      const ul = txt(structRUpper[i],{x:X0+3,y:ys(splitLevel)-3,'font-size':13,fill:'#222'},g);
      
      
    }
    pressR[i].forEach((lab,j)=>{
      const by = top+15+j*63;
      const bx = mk('rect',{x:2538,y:by,width:70,height:17,fill:'#fff',stroke:'#333','stroke-width':1.2},g);
      
      
      const bt = txt(lab,{x:2573,y:by+13,'font-size':13,'text-anchor':'middle',fill:'#111'},g);
      
      
    });
  }
  if(i===7){
    dosXTicks.forEach(t=>{
      mk('line',{x1:xs(t),x2:xs(t),y1:bot,y2:bot-5,stroke:'#333'},g);
      const xl = txt(String(t),{x:xs(t),y:1061,'font-size':13,'text-anchor':'middle',fill:'#222'},g);
      
      
    });
    const xt = txt('E-Ef, Ry',{x:X0+W/2,y:1084,'font-size':14,'text-anchor':'middle',fill:'#222'},g);
    
    
  }
}
for(let i=0;i<8;i++){drawDOS('L',i);drawDOS('R',i);}
const legCols=[['#dcc0e8','#a060c0'],['#bcd5ec','#3a78c0'],['#c4e6bd','#3e9e3e'],['#f4b8b8','#e02424']];
legendLabels.forEach((lab,j)=>{
  const y=92+j*15;
  const lt = txt(lab,{x:2036,y:y+11,'font-size':12,'text-anchor':'end',fill:'#222'});
  
  
  const lb = mk('rect',{x:2043,y:y+2,width:35,height:10,fill:legCols[j][0],stroke:legCols[j][1],'stroke-width':1.2});
  
  
});

// ================= FIGURE 2 =================
(function(){
  const x0=2946,x1=3170,y0=90,y1=467;
  const xr = r => x0+(r-0.05)/(1-0.05)*(x1-x0);
  const yv = v => y0+(100-v)/2100*(y1-y0);
  const g = mk('g',{});
  
  
  const cp = mk('clipPath',{id:'cpTF'},g);
  mk('rect',{x:x0,y:y0,width:x1-x0,height:y1-y0},cp);
  const pg = mk('g',{'clip-path':'url(#cpTF)'},g);
  mk('line',{x1:x0,x2:x1,y1:yv(0),y2:yv(0),stroke:'#8a8a8a','stroke-width':1.8},pg);
  const series=[[l1Z80,'#0d3a78','l1-z80'],[l1Z75,'#e8dcd4','l1-z75'],[l1Z70,'#9a1020','l1-z70'],[l3Z80,'#0d3a78','l3-z80'],[l3Z75,'#e8dcd4','l3-z75'],[l3Z70,'#9a1020','l3-z70']];
  series.forEach(s=>{
    const pts=rGrid.map((r,k)=>[xr(r),yv(s[0][k])]);
    const p = mk('path',{d:smooth(pts),fill:'none',stroke:s[1],'stroke-width':4},pg);
    
    
  });
  mk('rect',{x:x0,y:y0,width:x1-x0,height:y1-y0,fill:'none',stroke:'#222','stroke-width':1.3},g);
  vTicks.forEach(v=>{
    mk('line',{x1:x0,x2:x0+5,y1:yv(v),y2:yv(v),stroke:'#222'},g);
    mk('line',{x1:x1,x2:x1-5,y1:yv(v),y2:yv(v),stroke:'#222'},g);
    const t = txt(String(v),{x:x0-6,y:yv(v)+6,'font-size':15,'text-anchor':'end',fill:'#222'},g);
    
    
  });
  rTicks.forEach(r=>{
    mk('line',{x1:xr(r),x2:xr(r),y1:y1,y2:y1-5,stroke:'#222'},g);
    mk('line',{x1:xr(r),x2:xr(r),y1:y0,y2:y0+5,stroke:'#222'},g);
    const t = txt(String(r),{x:xr(r),y:488,'font-size':15,'text-anchor':'middle',fill:'#222'},g);
    
    
  });
  const xt = txt('r, Bohr radius',{x:3060,y:512,'font-size':15,'text-anchor':'middle',fill:'#222'},g);
  
  
  const yt = txt('V, Hartee',{transform:'translate(2892,278) rotate(-90)','font-size':15,'text-anchor':'middle',fill:'#222'},g);
  
  
  const l3 = txt('l=3',{x:3061,y:132,'font-size':14,'text-anchor':'middle',fill:'#222','font-style':'italic'},g);
  
  
  const l1 = txt('l=1',{x:3026,y:204,'font-size':14,'text-anchor':'middle',fill:'#222','font-style':'italic'},g);
  
  
  const cb = mk('rect',{x:3175,y:y0,width:12,height:y1-y0,fill:'url(#cbar)',stroke:'#222','stroke-width':0.8},g);
  
  
  const c80 = txt('80',{x:3190,y:97,'font-size':15,fill:'#222'},g);
  
  
  const c70 = txt('70',{x:3190,y:472,'font-size':15,fill:'#222'},g);
  
  
  const ct = txt('Atomic number',{transform:'translate(3217,280) rotate(-90)','font-size':14,'text-anchor':'middle',fill:'#222'},g);
  
  
})();

// ================= FIGURE 3 =================
function drawBands(X0,bands,name){
  const W=242,y0=90,y1=451;
  const xk = k => X0+k/242*W;
  const ye = E => y0+(8-E)/22*(y1-y0);
  const g = mk('g',{});
  
  
  const cp = mk('clipPath',{id:'cp'+name},g);
  mk('rect',{x:X0,y:y0,width:W,height:y1-y0},cp);
  const pg = mk('g',{'clip-path':'url(#cp'+name+')'},g);
  const ef = mk('line',{x1:X0,x2:X0+W,y1:ye(0),y2:ye(0),stroke:'#c8c8c8','stroke-width':3},pg);
  
  
  kLinePos.forEach(k=>{mk('line',{x1:xk(k),x2:xk(k),y1:y0,y2:y1,stroke:'#222','stroke-width':1.2},pg);});
  bands.forEach(b=>{
    const ks = b[2]||kSamp;
    const pts = ks.map((k,j)=>[xk(k),ye(b[0][j])]);
    const p = mk('path',{d:smooth(pts),fill:'none',stroke:b[1],'stroke-width':1.2},pg);
    
    
  });
  mk('line',{x1:X0,x2:X0+W,y1:y0,y2:y0,stroke:'#aaa','stroke-width':1.5},g);
  mk('line',{x1:X0,x2:X0,y1:y0,y2:y1,stroke:'#222','stroke-width':1.5},g);
  mk('line',{x1:X0,x2:X0+W,y1:y1,y2:y1,stroke:'#222','stroke-width':1.5},g);
  mk('line',{x1:X0+W,x2:X0+W,y1:y0,y2:y1,stroke:'#222','stroke-width':1.2},g);
  for(let e=8;e>=-14.001;e-=0.2){mk('line',{x1:X0,x2:X0+3,y1:ye(e),y2:ye(e),stroke:'#222','stroke-width':0.6},g);}
  eTicks.forEach(e=>{
    mk('line',{x1:X0,x2:X0+6,y1:ye(e),y2:ye(e),stroke:'#222','stroke-width':1},g);
    const t = txt(e.toFixed(1),{x:X0-3,y:ye(e)+4,'font-size':10.5,'text-anchor':'end',fill:'#222',style:"font-family:'Liberation Serif',serif"},g);
    
    
  });
  kLabelNames.forEach((n,j)=>{
    const t = txt(n,{x:xk(kLabelPos[j]),y:467,'font-size':14,'text-anchor':'middle',fill:'#222',style:"font-family:'Liberation Serif',serif"},g);
    
    
  });
  const ef2 = txt('E',{x:X0+245,y:ye(0)+6,'font-size':16,fill:'#222',style:"font-family:'Liberation Serif',serif"},g);
  
  
  txt('F',{x:X0+255,y:ye(0)+12,'font-size':10,fill:'#222',style:"font-family:'Liberation Serif',serif"},g);
  const yt = txt('Energy (eV)',{transform:'translate('+(X0-63)+',272) rotate(-90)','font-size':16,'text-anchor':'middle',fill:'#222','font-weight':'bold','letter-spacing':'1',style:"font-family:'Liberation Serif',serif"},g);
  
  
}
drawBands(3873,[[ambGray,'#b4b4b4',null,'gray'],[ambBlack,'#222',null,'black'],[ambBlue,'#0000e6',null,'blue'],[ambRed,'#e61010',null,'red'],[ambGreen,'#10d010',null,'green'],[ambOlive,'#a0a000',null,'olive'],[ambMagE,'#f020f0',ambMagK,'magenta']],'band-structure-ambient');
drawBands(4227,[[hpBlack,'#222',null,'black'],[hpBlue,'#0000e6',null,'blue'],[hpRed,'#e61010',null,'red'],[hpGreen,'#10d010',null,'green'],[hpGreen2,'#10d010',null,'green-low'],[hpOlive,'#a0a000',null,'olive']],'band-structure-80gpa');
</script>
</body></html>
